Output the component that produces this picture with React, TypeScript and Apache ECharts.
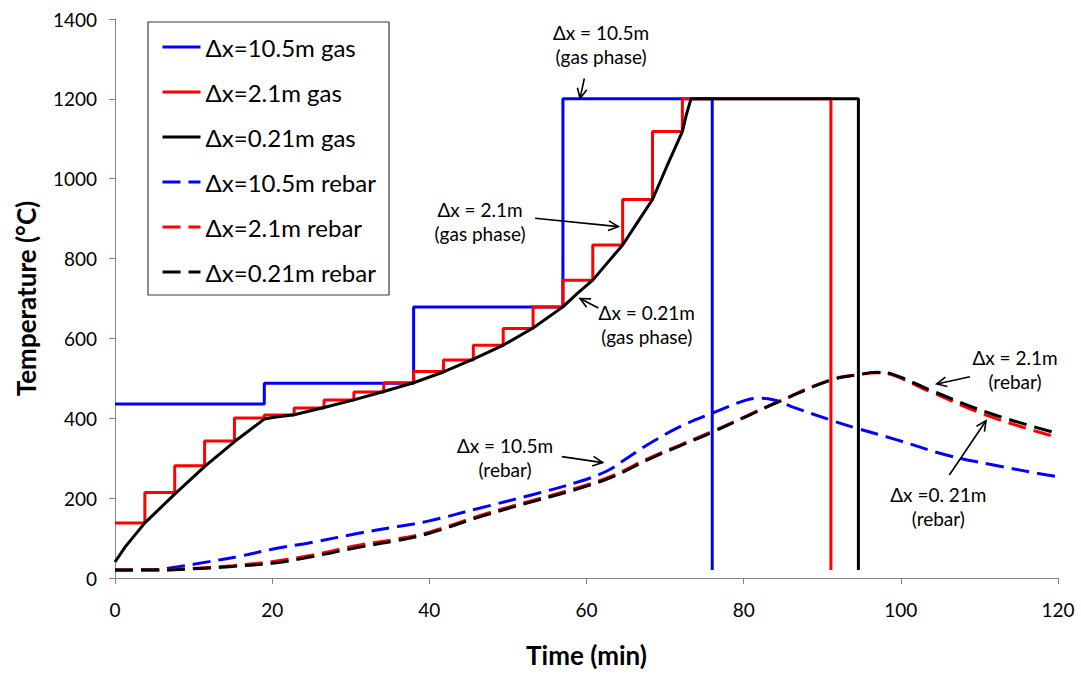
import React, { useEffect, useRef } from "react";
import * as echarts from "echarts";

// Gas-phase temperatures, held constant between updates: [time (min), °C]
const gas105Steps: [number, number][] = [
  [0, 436], [19, 488], [38, 679], [57, 1200], [76, 20],
];
const gas21Steps: [number, number][] = [
  [0, 138], [3.8, 214], [7.6, 281], [11.4, 343], [15.2, 401], [19, 408],
  [22.8, 426], [26.6, 446], [30.4, 466], [34.2, 489], [38, 517], [41.8, 546],
  [45.6, 583], [49.4, 625], [53.2, 679], [57, 746], [60.8, 834], [64.6, 948],
  [68.4, 1118], [72.2, 1200], [91.1, 20],
];
const gas021: [number, number][] = [
  [0, 40], [1.3, 78], [3.8, 138], [7.7, 212], [11.5, 281], [15.3, 343],
  [19, 398], [20.5, 403], [22.8, 409], [26.6, 427], [30.4, 446], [34.2, 467],
  [38, 489], [41.8, 516], [45.6, 548], [49.5, 584], [53.2, 626], [57, 679],
  [58.8, 712], [60.8, 746], [62.6, 788], [64.6, 834], [66.4, 888],
  [68.4, 948], [70.2, 1030], [72.2, 1118], [72.7, 1160], [73.3, 1200],
  [94.6, 1200], [94.6, 20],
];

// Rebar temperatures: [time (min), °C]
const rebar105: [number, number][] = [
  [0, 20], [5, 21], [8, 28], [12, 41], [16, 55], [20, 72], [25, 89],
  [31, 112], [36, 129], [40, 143], [46, 173], [53, 208], [59, 241],
  [62.6, 268], [65, 298], [67.7, 333], [71.9, 379], [76, 413], [80.4, 446],
  [82, 450], [84, 445], [86, 430], [91, 396], [94.4, 375], [99.5, 346],
  [105.8, 308], [111.8, 283], [118.6, 258], [120, 254],
];
const rebar21: [number, number][] = [
  [0, 20], [5, 20], [10, 24], [15, 31], [20, 41], [25, 57], [31, 82],
  [36, 98], [40, 115], [46.4, 156], [50.7, 181], [59.2, 228], [63.4, 257],
  [67.7, 298], [71.9, 333], [76.1, 368], [80.4, 406], [84.2, 440], [91, 496],
  [94.8, 510], [97, 514], [99, 508], [103.7, 467], [111.4, 404], [120, 352],
];
const rebar021: [number, number][] = [
  [0, 20], [5, 20], [10, 23], [15, 29], [20, 37], [25, 53], [31, 77],
  [36, 94], [40, 112], [46.4, 153], [50.7, 178], [59.2, 225], [63.4, 254],
  [67.7, 295], [71.9, 331], [76.1, 366], [80.4, 405], [84.2, 439], [91, 495],
  [94.8, 510], [97, 515], [99, 510], [103.7, 471], [111.4, 412], [120, 362],
];

const seriesNames = [
  "Δx=10.5m gas",
  "Δx=2.1m gas",
  "Δx=0.21m gas",
  "Δx=10.5m rebar",
  "Δx=2.1m rebar",
  "Δx=0.21m rebar",
];

// Callouts: label centre, arrow tail and arrow tip, in [time, °C]
const callouts: { label: string; at: number[]; from: number[]; to: number[] }[] = [
  { label: "Δx = 10.5m\n(gas phase)", at: [61.85, 1335], from: [59.72, 1251], to: [59.18, 1201] },
  { label: "Δx = 2.1m\n(gas phase)", at: [46.45, 893], from: [53.45, 901], to: [64.05, 880] },
  { label: "Δx = 0.21m\n(gas phase)", at: [67.66, 634], from: [61.5, 676], to: [59.18, 700] },
  { label: "Δx = 10.5m\n(rebar)", at: [49.63, 303], from: [56.85, 304], to: [62.06, 289] },
  { label: "Δx = 2.1m\n(rebar)", at: [114.53, 523], from: [108.8, 504], to: [104.57, 486] },
  { label: "Δx =0. 21m\n(rebar)", at: [104.77, 180], from: [106.17, 258], to: [110.84, 394] },
];

const FONT = "Lato, 'Open Sans', sans-serif";
const BLUE = "#0000ff";
const RED = "#ff0000";
const BLACK = "#000000";
const DASH = [18, 8];

export default function App() {
  const ref = useRef<HTMLDivElement>(null);

  useEffect(() => {
    if (!ref.current) return;
    const chart = echarts.init(ref.current, null, { renderer: "svg" });

    const gasLine = (name: string, data: [number, number][], color: string, step: boolean) => ({
      name,
      type: "line",
      data,
      step: step ? "end" : false,
      showSymbol: false,
      symbol: "none",
      lineStyle: { color, width: 3 },
      itemStyle: { color },
    });
    const rebarLine = (name: string, data: [number, number][], color: string) => ({
      name,
      type: "line",
      data,
      smooth: 0.4,
      showSymbol: false,
      symbol: "none",
      lineStyle: { color, width: 3, type: DASH },
      itemStyle: { color },
    });

    chart.setOption({
      animation: false,
      backgroundColor: "#ffffff",
      textStyle: { fontFamily: FONT },
      grid: { left: 115, right: 23, top: 19, bottom: 99, containLabel: false },
      legend: {
        orient: "vertical",
        left: 161,
        top: 35,
        itemWidth: 38,
        itemHeight: 20,
        itemGap: 21,
        padding: 0,
        itemStyle: { opacity: 0 },
        lineStyle: { width: 3 },
        textStyle: { fontFamily: FONT, fontSize: 24, color: "#000", lineHeight: 22 },
        data: seriesNames,
      },
      xAxis: {
        type: "value",
        min: 0,
        max: 120,
        interval: 20,
        name: "Time (min)",
        nameLocation: "middle",
        nameGap: 64,
        nameTextStyle: { fontFamily: FONT, fontSize: 26, fontWeight: "bold", color: "#000" },
        axisLine: { show: true, lineStyle: { color: "#868686", width: 1 } },
        axisTick: { show: true, length: 6, lineStyle: { color: "#868686" } },
        axisLabel: { fontFamily: FONT, fontSize: 19, color: "#000", margin: 22 },
        splitLine: { show: false },
      },
      yAxis: {
        type: "value",
        min: 0,
        max: 1400,
        interval: 200,
        name: "Temperature (°C)",
        nameLocation: "middle",
        nameGap: 76,
        nameTextStyle: { fontFamily: FONT, fontSize: 26, fontWeight: "bold", color: "#000" },
        axisLine: { show: true, lineStyle: { color: "#868686", width: 1 } },
        axisTick: { show: true, length: 6, lineStyle: { color: "#868686" } },
        axisLabel: {
          fontFamily: FONT,
          fontSize: 19,
          color: "#000",
          margin: 18,
          formatter: (v: number) => String(v),
        },
        splitLine: { show: false },
      },
      series: [
        gasLine(seriesNames[0], gas105Steps, BLUE, true),
        gasLine(seriesNames[1], gas21Steps, RED, true),
        gasLine(seriesNames[2], gas021, BLACK, false),
        rebarLine(seriesNames[3], rebar105, BLUE),
        rebarLine(seriesNames[4], rebar21, RED),
        rebarLine(seriesNames[5], rebar021, BLACK),
      ],
    });

    const toPx = (p: number[]) => chart.convertToPixel({ gridIndex: 0 }, p) as number[];
    const elements: any[] = [
      {
        type: "rect",
        z: 0,
        shape: { x: 148, y: 22, width: 241, height: 273 },
        style: { fill: "none", stroke: "#3c3c3c", lineWidth: 1.2 },
      },
    ];
    callouts.forEach((c) => {
      const [cx, cy] = toPx(c.at);
      const [fx, fy] = toPx(c.from);
      const [tx, ty] = toPx(c.to);
      const ang = Math.atan2(ty - fy, tx - fx);
      const head = 11;
      const spread = 0.45;
      const p1 = [tx - head * Math.cos(ang - spread), ty - head * Math.sin(ang - spread)];
      const p2 = [tx - head * Math.cos(ang + spread), ty - head * Math.sin(ang + spread)];
      elements.push({
        type: "text",
        x: cx,
        y: cy,
        z: 10,
        style: {
          text: c.label,
          font: `19px ${FONT}`,
          fill: "#000",
          align: "center",
          verticalAlign: "middle",
          lineHeight: 24,
        },
      });
      elements.push({
        type: "line",
        z: 10,
        shape: { x1: fx, y1: fy, x2: tx, y2: ty },
        style: { stroke: "#000", lineWidth: 1.6 },
      });
      elements.push({
        type: "polyline",
        z: 10,
        shape: { points: [p1, [tx, ty], p2] },
        style: { stroke: "#000", lineWidth: 1.6, fill: "none" },
      });
    });
    chart.setOption({ graphic: elements });

    return () => chart.dispose();
  }, []);

  return (
    <div
      ref={ref}
      style={{ position: "fixed", left: 0, top: 0, width: 1081, height: 677, background: "#fff" }}
    />
  );
}
